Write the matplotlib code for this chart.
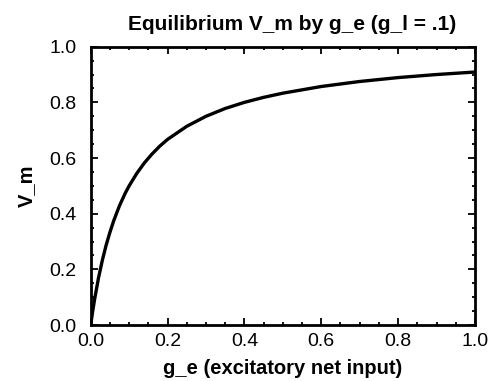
import numpy as np
import matplotlib.pyplot as plt
from matplotlib.ticker import AutoMinorLocator

# values
g_e = [0.0, 0.005, 0.01, 0.02, 0.03, 0.04, 0.05, 0.06, 0.075, 0.09, 0.1, 0.12, 0.14,
       0.16, 0.18, 0.2, 0.25, 0.3, 0.35, 0.4, 0.45, 0.5, 0.6, 0.7, 0.8, 0.9, 1.0]
v_m = [0.0, 0.048, 0.091, 0.167, 0.231, 0.286, 0.333, 0.375, 0.429, 0.474, 0.5, 0.545,
       0.583, 0.615, 0.643, 0.667, 0.714, 0.75, 0.778, 0.8, 0.818, 0.833, 0.857,
       0.875, 0.889, 0.9, 0.909]

plt.rcParams['font.family'] = ['Liberation Sans', 'DejaVu Sans']

fig = plt.figure(figsize=(4.92, 3.81), dpi=100)
ax = fig.add_axes([90.7/492, 1-325/381, (475-90.7)/492, (325-46.7)/381])

ax.plot(g_e, v_m, color='black', lw=2.4)

ax.set_xlim(0, 1)
ax.set_ylim(0, 1)
ax.set_xticks(np.arange(0, 1.01, 0.2))
ax.set_yticks(np.arange(0, 1.01, 0.2))
ax.xaxis.set_minor_locator(AutoMinorLocator(4))
ax.yaxis.set_minor_locator(AutoMinorLocator(4))
ax.tick_params(which='both', direction='in', top=True, right=True, labelsize=14, width=1.3)
ax.tick_params(which='major', length=5)
ax.tick_params(which='minor', length=2.5)
ax.tick_params(axis='x', pad=6)
ax.tick_params(axis='y', pad=10)
for s in ax.spines.values():
    s.set_linewidth(2)

ax.set_xlabel('g_e (excitatory net input)', fontsize=14.5, fontweight='bold', labelpad=6)
ax.set_ylabel('V_m', fontsize=14.5, fontweight='bold', labelpad=10)
ax.set_title('Equilibrium V_m by g_e (g_l = .1)', fontsize=15, fontweight='bold', pad=12, x=0.525)

fig.savefig('out.png', dpi=100)
